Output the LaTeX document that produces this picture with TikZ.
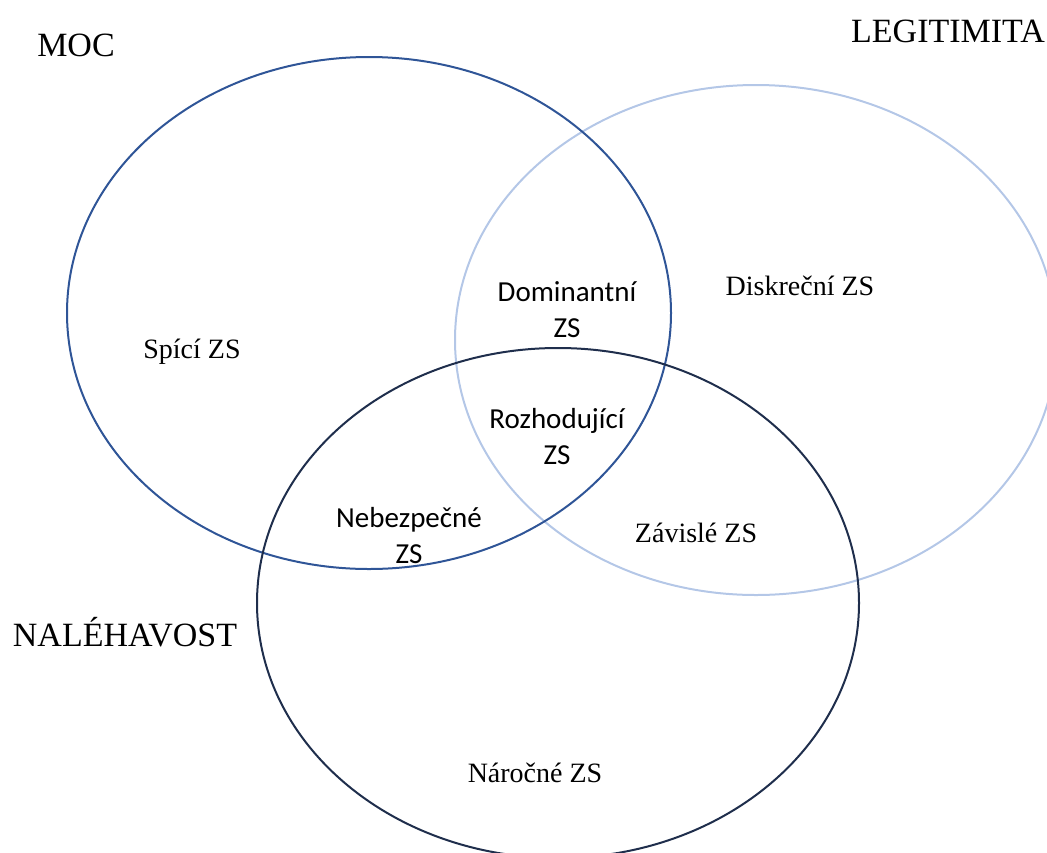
\documentclass[tikz,border=0pt]{standalone}
\usepackage{fontspec}
\setmainfont{Liberation Serif}
\newfontfamily\labelsans{Carlito}
\definecolor{mocblue}{HTML}{2F5597}
\definecolor{legblue}{HTML}{B4C7E7}
\definecolor{nalnavy}{HTML}{1F2E4C}
\begin{document}
\begin{tikzpicture}[x=1pt,y=-1pt,
  setline/.style={line width=2pt},
  settitle/.style={font=\fontsize{34}{40}\selectfont, inner sep=0pt},
  serifzone/.style={font=\fontsize{28}{34}\selectfont, inner sep=0pt},
  sanszone/.style={font=\labelsans\fontsize{29}{36}\selectfont, align=center, inner sep=0pt}]
  \useasboundingbox (0,0) rectangle (1047,852);
  \clip (0,0) rectangle (1047,852);
  % the three sets
  \draw[setline, legblue] (756,340) ellipse [x radius=301, y radius=255];
  \draw[setline, mocblue] (369,313) ellipse [x radius=302, y radius=256];
  \draw[setline, nalnavy] (558,603) ellipse [x radius=301, y radius=255];
  % set names
  \node[settitle] (moc) at (76,45) {MOC};
  \node[settitle] (leg) at (948,31) {LEGITIMITA};
  \node[settitle] (nal) at (125,632) {NALÉHAVOST};
  % zone labels
  \node[serifzone] (spici) at (192,352) {Spící ZS};
  \node[serifzone] (diskr) at (800,286) {Diskreční ZS};
  \node[serifzone] (zavis) at (696,533) {Závislé ZS};
  \node[serifzone] (naroc) at (535,773) {Náročné ZS};
  \node[sanszone] (domin) at (567,310) {Dominantní\\ZS};
  \node[sanszone] (rozho) at (557,437) {Rozhodující\\ZS};
  \node[sanszone] (nebez) at (409,536) {Nebezpečné\\ZS};
\end{tikzpicture}
\end{document}
